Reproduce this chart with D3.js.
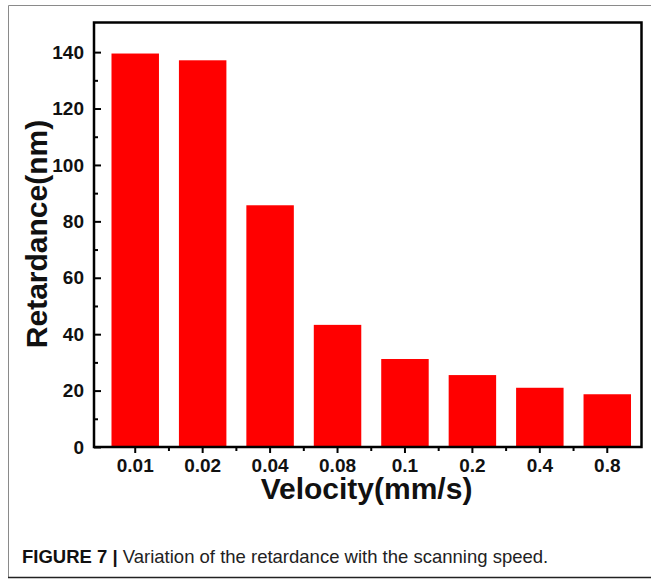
<!DOCTYPE html>
<html lang="en">
<head>
    <meta charset="UTF-8">
    <title>Retardance vs Velocity</title>
    <style>
        body { margin: 0; background: #fff; }
        svg { display: block; }
        .tick text { font-family: "Liberation Sans", Arial, sans-serif; font-weight: bold; font-size: 19px; fill: #111; }
        .tick line { stroke: #000; stroke-width: 2; }
        .axis-title { font-family: "Liberation Sans", Arial, sans-serif; font-weight: bold; font-size: 30px; fill: #111; }
        .caption { font-family: "Liberation Sans", Arial, sans-serif; font-size: 18.5px; fill: #222; }
    </style>
</head>
<body>
    <svg id="chart" width="651" height="579"></svg>

    <script src="https://d3js.org/d3.v7.min.js"></script>
    <script>
        // Data
        const velocities = ["0.01", "0.02", "0.04", "0.08", "0.1", "0.2", "0.4", "0.8"];
        const retardance = [139.5, 137.1, 85.7, 43.3, 31.2, 25.5, 21.0, 18.7];
        const yMajorTicks = [0, 20, 40, 60, 80, 100, 120, 140];
        const yMinorTicks = [10, 30, 50, 70, 90, 110, 130];

        const svg = d3.select("#chart");
        const plotLeft = 94, plotRight = 641.5, plotTop = 22.5, plotBottom = 447;

        // outer figure frame (gray left/top, dark bottom)
        svg.append("line").attr("x1", 8.5).attr("x2", 651).attr("y1", 5.5).attr("y2", 5.5)
            .attr("stroke", "#8a8a8a").attr("stroke-width", 1);
        svg.append("line").attr("x1", 8.5).attr("x2", 8.5).attr("y1", 5.5).attr("y2", 577)
            .attr("stroke", "#8a8a8a").attr("stroke-width", 1);
        svg.append("line").attr("x1", 8).attr("x2", 651).attr("y1", 577.5).attr("y2", 577.5)
            .attr("stroke", "#222").attr("stroke-width", 1.5);

        const x = d3.scaleBand()
            .domain(velocities)
            .range([plotLeft, plotRight])
            .paddingInner(0.296)
            .paddingOuter(0.2075)
            .align(0.625);

        const y = d3.scaleLinear().domain([0, 150.5]).range([plotBottom, plotTop]);

        // bars
        svg.append("g").selectAll("rect")
            .data(velocities)
            .join("rect")
            .attr("x", d => x(d))
            .attr("width", x.bandwidth())
            .attr("y", (d, i) => y(retardance[i]))
            .attr("height", (d, i) => y(0) - y(retardance[i]))
            .attr("fill", "#ff0000");

        // y axis: major ticks point inward
        const yAxis = svg.append("g")
            .attr("transform", `translate(${plotLeft},0)`)
            .call(d3.axisLeft(y).tickValues(yMajorTicks).tickSize(-7).tickPadding(10).tickFormat(d3.format("d")));
        yAxis.select(".domain").remove();

        const yMinor = svg.append("g")
            .attr("transform", `translate(${plotLeft},0)`)
            .call(d3.axisLeft(y).tickValues(yMinorTicks).tickSize(-4).tickFormat(""));
        yMinor.select(".domain").remove();

        // x axis: ticks point outward
        const xAxis = svg.append("g")
            .attr("transform", `translate(0,${plotBottom})`)
            .call(d3.axisBottom(x).tickSize(6).tickPadding(6));
        xAxis.select(".domain").remove();

        // minor x ticks between categories
        const mids = velocities.slice(1).map((d, i) =>
            (x(velocities[i]) + x(d) + x.bandwidth()) / 2);
        svg.append("g").selectAll("line")
            .data(mids)
            .join("line")
            .attr("x1", d => d).attr("x2", d => d)
            .attr("y1", plotBottom).attr("y2", plotBottom + 4)
            .attr("stroke", "#000").attr("stroke-width", 2);

        // plot frame
        svg.append("rect")
            .attr("x", plotLeft).attr("y", plotTop)
            .attr("width", plotRight - plotLeft).attr("height", plotBottom - plotTop)
            .attr("fill", "none").attr("stroke", "#000").attr("stroke-width", 2.5);

        // axis titles
        svg.append("text")
            .attr("class", "axis-title")
            .attr("font-size", 31)
            .attr("transform", `translate(47,234) rotate(-90)`)
            .attr("text-anchor", "middle")
            .text("Retardance(nm)");

        svg.append("text")
            .attr("class", "axis-title")
            .attr("x", 366.5).attr("y", 499)
            .attr("text-anchor", "middle")
            .text("Velocity(mm/s)");

        // caption
        const cap = svg.append("text").attr("class", "caption").attr("x", 22).attr("y", 563);
        cap.append("tspan").attr("font-weight", "bold").attr("fill", "#111").text("FIGURE 7 | ");
        cap.append("tspan").text("Variation of the retardance with the scanning speed.");
    </script>
</body>
</html>
